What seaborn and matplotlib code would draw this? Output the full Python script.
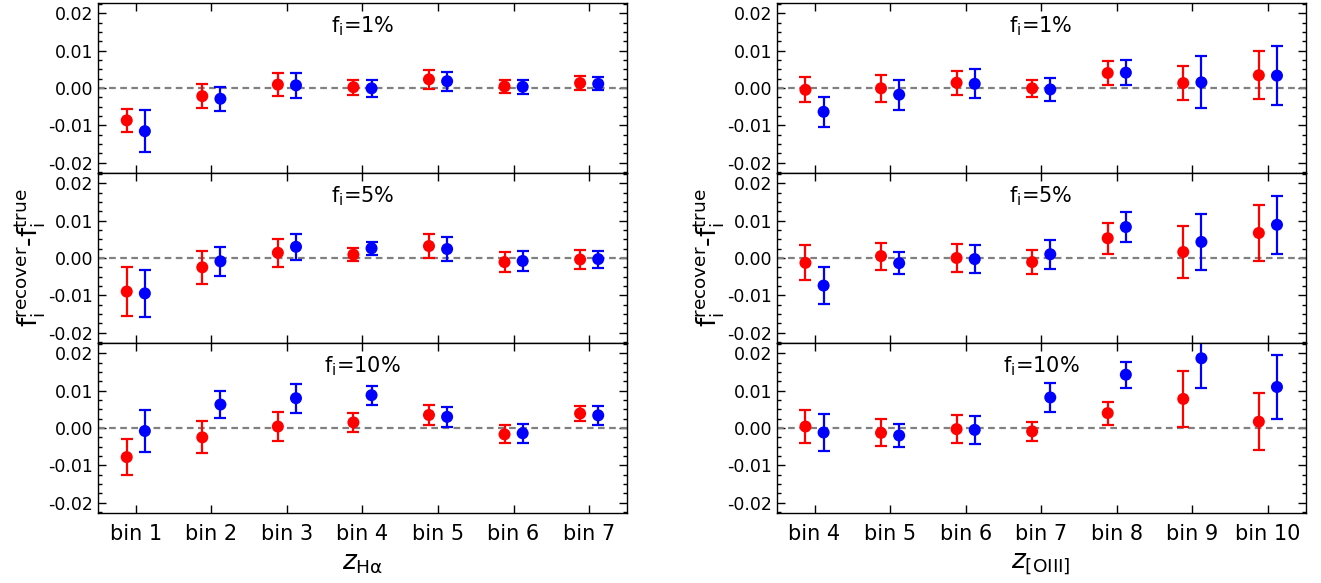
import numpy as np
import pandas as pd
import matplotlib
matplotlib.use("Agg")
import matplotlib.pyplot as plt
from matplotlib.ticker import MultipleLocator, FormatStrFormatter
import seaborn as sns

sns.set_style("ticks")
plt.rcParams["font.family"] = ["DejaVu Sans"]
plt.rcParams["axes.unicode_minus"] = False
plt.rcParams["mathtext.default"] = "regular"
for k in ["text.color", "axes.labelcolor", "xtick.color", "ytick.color",
          "axes.edgecolor"]:
    plt.rcParams[k] = "black"

# ---------------- data ----------------
bins_ha = ["bin 1", "bin 2", "bin 3", "bin 4", "bin 5", "bin 6", "bin 7"]
bins_o3 = ["bin 4", "bin 5", "bin 6", "bin 7", "bin 8", "bin 9", "bin 10"]
fi_labels = ["1%", "5%", "10%"]

# H-alpha (left column)
ha_red_1 = [-0.0087, -0.0022, 0.0009, 0.0002, 0.0023, 0.0004, 0.0013]
ha_red_1_err = [0.0030, 0.0033, 0.0030, 0.0020, 0.0026, 0.0017, 0.0019]
ha_blue_1 = [-0.0116, -0.0029, 0.0007, -0.0001, 0.0018, 0.0003, 0.0011]
ha_blue_1_err = [0.0057, 0.0032, 0.0033, 0.0022, 0.0025, 0.0019, 0.0017]

ha_red_5 = [-0.0090, -0.0025, 0.0014, 0.0009, 0.0032, -0.0011, -0.0004]
ha_red_5_err = [0.0065, 0.0045, 0.0038, 0.0018, 0.0032, 0.0027, 0.0026]
ha_blue_5 = [-0.0095, -0.0009, 0.0030, 0.0026, 0.0024, -0.0008, -0.0003]
ha_blue_5_err = [0.0062, 0.0039, 0.0035, 0.0018, 0.0031, 0.0028, 0.0023]

ha_red_10 = [-0.0078, -0.0025, 0.0004, 0.0015, 0.0035, -0.0017, 0.0039]
ha_red_10_err = [0.0048, 0.0043, 0.0039, 0.0026, 0.0027, 0.0024, 0.0021]
ha_blue_10 = [-0.0008, 0.0063, 0.0080, 0.0088, 0.0030, -0.0014, 0.0034]
ha_blue_10_err = [0.0057, 0.0036, 0.0039, 0.0026, 0.0027, 0.0025, 0.0025]

# [OIII] (right column)
o3_red_1 = [-0.0005, -0.0001, 0.0014, -0.0001, 0.0040, 0.0013, 0.0034]
o3_red_1_err = [0.0034, 0.0037, 0.0032, 0.0022, 0.0032, 0.0045, 0.0065]
o3_blue_1 = [-0.0064, -0.0018, 0.0011, -0.0004, 0.0041, 0.0015, 0.0033]
o3_blue_1_err = [0.0040, 0.0040, 0.0039, 0.0031, 0.0034, 0.0070, 0.0079]

o3_red_5 = [-0.0013, 0.0005, 0.0000, -0.0011, 0.0053, 0.0016, 0.0067]
o3_red_5_err = [0.0047, 0.0036, 0.0038, 0.0033, 0.0041, 0.0070, 0.0076]
o3_blue_5 = [-0.0074, -0.0014, -0.0003, 0.0010, 0.0083, 0.0043, 0.0089]
o3_blue_5_err = [0.0050, 0.0029, 0.0038, 0.0039, 0.0040, 0.0075, 0.0077]

o3_red_10 = [0.0004, -0.0013, -0.0003, -0.0009, 0.0040, 0.0078, 0.0017]
o3_red_10_err = [0.0043, 0.0036, 0.0037, 0.0026, 0.0031, 0.0074, 0.0077]
o3_blue_10 = [-0.0012, -0.0020, -0.0005, 0.0082, 0.0143, 0.0187, 0.0110]
o3_blue_10_err = [0.0049, 0.0031, 0.0038, 0.0038, 0.0035, 0.0080, 0.0086]

columns = [
    (bins_ha, r"$\mathit{z}_{\rm H\alpha}$",
     [(ha_red_1, ha_red_1_err, ha_blue_1, ha_blue_1_err),
      (ha_red_5, ha_red_5_err, ha_blue_5, ha_blue_5_err),
      (ha_red_10, ha_red_10_err, ha_blue_10, ha_blue_10_err)]),
    (bins_o3, r"$\mathit{z}_{\rm [OIII]}$",
     [(o3_red_1, o3_red_1_err, o3_blue_1, o3_blue_1_err),
      (o3_red_5, o3_red_5_err, o3_blue_5, o3_blue_5_err),
      (o3_red_10, o3_red_10_err, o3_blue_10, o3_blue_10_err)]),
]

# ---------------- figure ----------------
fig = plt.figure(figsize=(13.21, 5.83), dpi=100)
lefts = [0.0742, 0.588]
width = 0.4004
bottom, top = 0.12, 0.995
ph = (top - bottom) / 3
off = 0.12
ylim = (-0.0228, 0.0228)

for ci, (bins, xlabel, rows) in enumerate(columns):
    xidx = np.arange(len(bins))
    for ri, (rv, re_, bv, be) in enumerate(rows):
        ax = fig.add_axes([lefts[ci], top - (ri + 1) * ph, width, ph])
        df = pd.DataFrame({
            "x": np.concatenate([xidx - off, xidx + off]),
            "y": np.concatenate([rv, bv]),
            "err": np.concatenate([re_, be]),
            "set": ["red"] * len(bins) + ["blue"] * len(bins),
        })
        ax.axhline(0, color="grey", ls="--", lw=1.6, dashes=(3, 2), zorder=1)
        for name, col in [("red", "red"), ("blue", "blue")]:
            d = df[df["set"] == name]
            ax.errorbar(d["x"], d["y"], yerr=d["err"], fmt="none",
                        ecolor=col, elinewidth=1.6, capsize=4.5,
                        capthick=1.6, zorder=2)
        sns.scatterplot(data=df, x="x", y="y", hue="set",
                        palette={"red": "red", "blue": "blue"},
                        s=75, edgecolor="none", legend=False, ax=ax,
                        zorder=3)
        ax.set_xlim(-0.5, len(bins) - 0.5)
        ax.set_ylim(*ylim)
        ax.set_xticks(xidx)
        ax.yaxis.set_major_locator(MultipleLocator(0.01))
        ax.yaxis.set_minor_locator(MultipleLocator(0.0025))
        ax.yaxis.set_major_formatter(FormatStrFormatter("%.2f"))
        ax.tick_params(which="both", direction="in", top=True, right=True,
                       color="black")
        ax.tick_params(which="major", length=6, width=1)
        ax.tick_params(which="minor", length=3, width=1)
        ax.tick_params(axis="y", labelsize=12.5, labelcolor="black")
        ax.tick_params(axis="x", labelsize=15, pad=8, labelcolor="black")
        for sp in ax.spines.values():
            sp.set_linewidth(1.0)
            sp.set_color("black")
        if ri == 2:
            ax.set_xticklabels(bins)
            ax.set_xlabel(xlabel, fontsize=19, labelpad=4, color="black")
        else:
            ax.set_xticklabels([])
            ax.set_xlabel("")
        if ri == 1:
            ax.set_ylabel(r"$f_i^{recover}$-$f_i^{true}$", fontsize=19,
                          labelpad=0, color="black")
        else:
            ax.set_ylabel("")
        ax.text(0.5, 0.865, r"$f_i$=" + fi_labels[ri], transform=ax.transAxes,
                ha="center", va="center", fontsize=15, color="black")

fig.savefig("out.png", dpi=100)
